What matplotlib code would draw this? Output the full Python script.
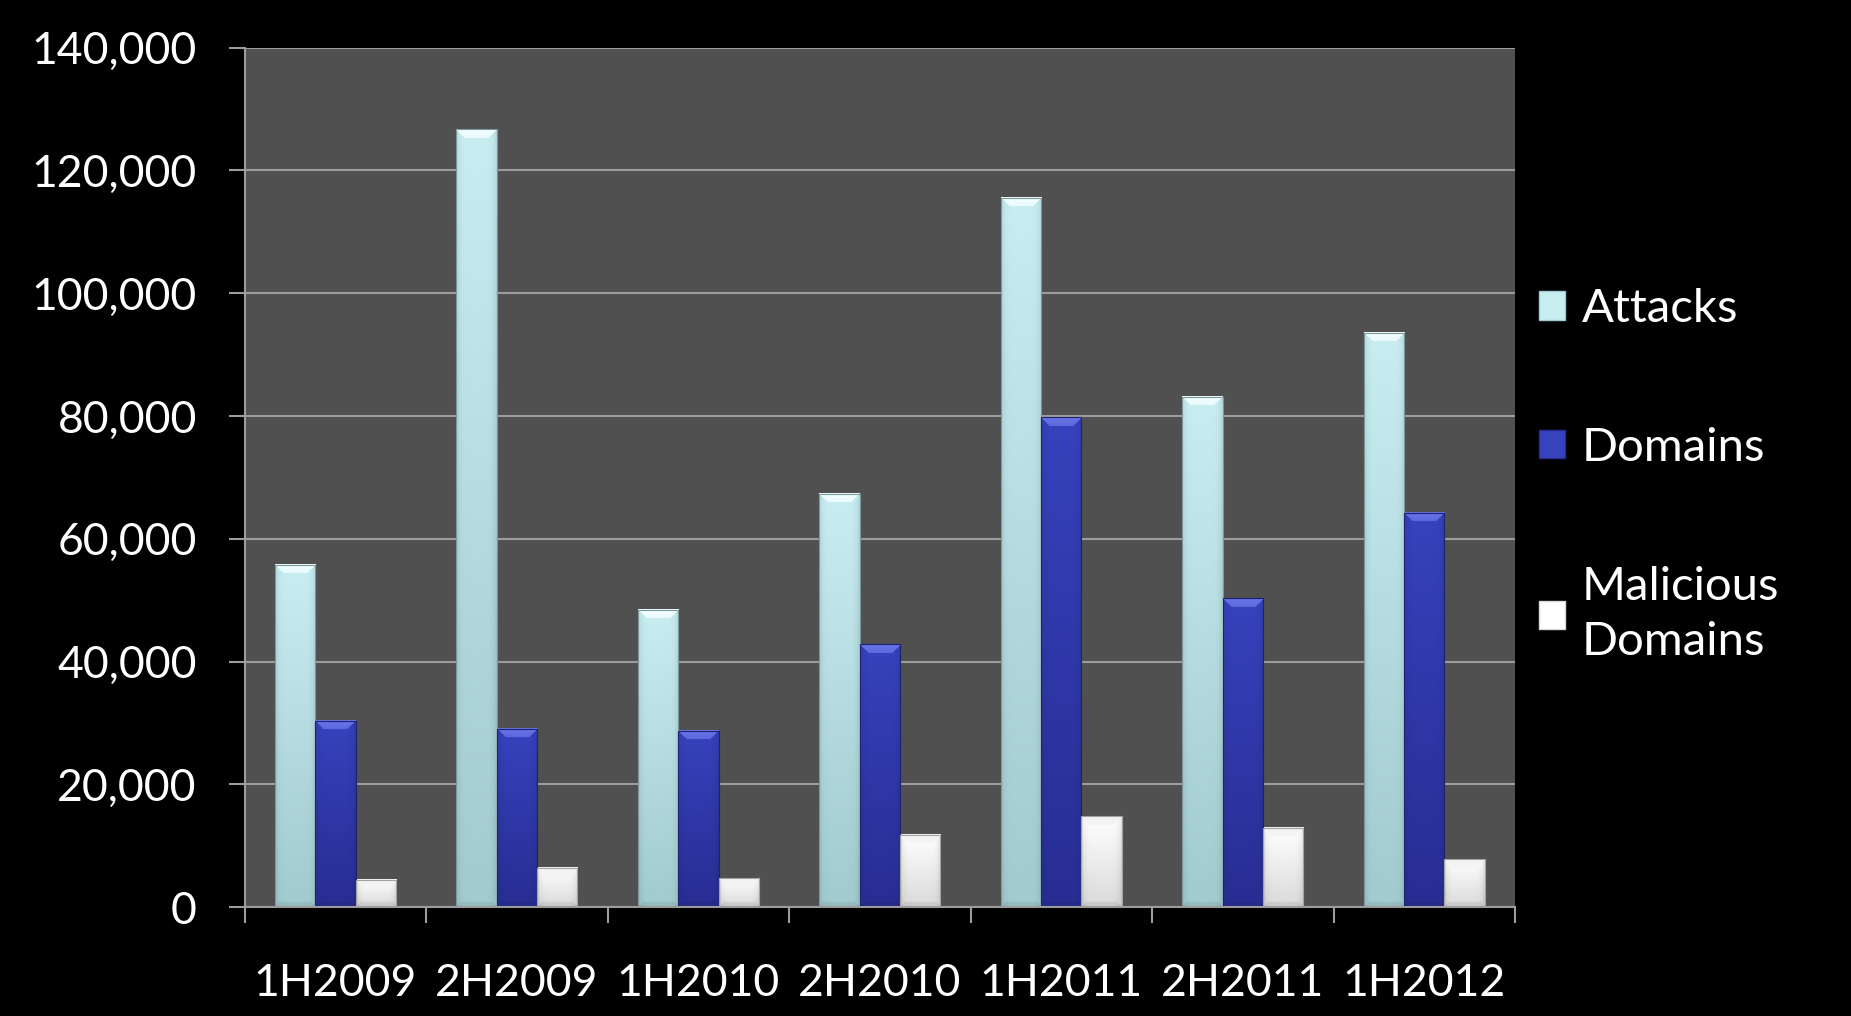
import numpy as np
import matplotlib
matplotlib.use("Agg")
import matplotlib.pyplot as plt
from matplotlib.patches import Patch, Polygon
from matplotlib.ticker import FuncFormatter, MultipleLocator, FixedLocator
from matplotlib.colors import to_rgb

# ---- data ----
categories = ["1H2009", "2H2009", "1H2010", "2H2010", "1H2011", "2H2011", "1H2012"]
attacks = [55800, 126700, 48400, 67300, 115500, 83100, 93500]
domains = [30300, 29000, 28700, 42800, 79800, 50300, 64200]
malicious_domains = [4400, 6400, 4700, 11800, 14800, 12900, 7800]
series_names = ["Attacks", "Domains", "Malicious\nDomains"]

# colours: (top, bottom, cap)
styles = [
    ("#c8eef2", "#a2cbcf", "#f4feff"),
    ("#3742bd", "#282d93", "#6874e6"),
    ("#ffffff", "#dadada", "#f2f2f2"),
]

plt.rcParams['font.family'] = ['Lato', 'DejaVu Sans']
W, H = 1851, 1016
fig = plt.figure(figsize=(W / 100, H / 100), dpi=100, facecolor="black")
ax = fig.add_axes([0.1322, 0.1070, 0.6863, 0.8461])
ax.set_facecolor("#505050")

x = np.arange(len(categories))
bw = 0.222
all_series = [attacks, domains, malicious_domains]
bar_groups = []
for i, (vals, st) in enumerate(zip(all_series, styles)):
    bars = ax.bar(x + (i - 1) * bw, vals, width=bw, color=st[1], zorder=3,
                  linewidth=0)
    bar_groups.append(bars)

ax.set_xlim(-0.5, len(categories) - 0.5)
ax.set_ylim(0, 140000)

# gradient fill + bevel cap for each bar
fig.canvas.draw()
to_px = ax.transData
for bars, st in zip(bar_groups, styles):
    top_c = np.array(to_rgb(st[0]))
    bot_c = np.array(to_rgb(st[1]))
    cap_c = np.array(to_rgb(st[2]))
    for b in bars:
        x0, y0 = b.get_x(), b.get_y()
        x1, y1 = x0 + b.get_width(), y0 + b.get_height()
        p0 = to_px.transform((x0, y0))
        p1 = to_px.transform((x1, y1))
        wpx = max(int(round(p1[0] - p0[0])), 2)
        hpx = max(int(round(p1[1] - p0[1])), 2)
        t = np.linspace(0, 1, hpx)[:, None]
        img = (1 - t)[..., None] * top_c + t[..., None] * bot_c
        img = np.repeat(img, wpx, axis=1)
        u = np.linspace(0, 1, wpx)[None, :]
        side = 1 - 0.10 * (np.abs(u - 0.5) * 2) ** 6
        img = img * side[..., None]
        cap = min(9, hpx // 2)
        for r in range(cap):
            lo, hi = r, wpx - r
            if hi > lo:
                img[r, lo:hi] = cap_c * (1 - 0.25 * r / cap) + top_c * (0.25 * r / cap)
        bb = min(5, hpx // 3)
        for r in range(bb):
            img[hpx - 1 - r, r:wpx - r] *= 0.93
        img = np.clip(img, 0, 1)
        ax.imshow(img, extent=[x0, x1, y0, y1], aspect="auto", zorder=3.5,
                  interpolation="bilinear")
        ax.add_patch(Polygon([[x0, y0], [x0, y1], [x1, y1], [x1, y0]], closed=True,
                             fill=False, edgecolor=tuple(bot_c * 0.75), linewidth=0.8,
                             zorder=3.6))

ax.set_xlim(-0.5, len(categories) - 0.5)
ax.set_ylim(0, 140000)

grid_col = "#9c9c9c"
ax.yaxis.set_major_locator(MultipleLocator(20000))
ax.yaxis.set_major_formatter(FuncFormatter(lambda v, p: f"{int(v):,}"))
ax.grid(axis="y", color=grid_col, linewidth=1.5, zorder=1)
ax.set_axisbelow(True)
for s in ["top", "right"]:
    ax.spines[s].set_visible(False)
for s in ["left", "bottom"]:
    ax.spines[s].set_color(grid_col)
    ax.spines[s].set_linewidth(1.5)
    ax.spines[s].set_zorder(4)

ax.set_xticks(x)
ax.set_xticklabels(categories)
ax.xaxis.set_minor_locator(FixedLocator(np.arange(-0.5, len(categories), 1.0)))
ax.tick_params(axis="x", which="major", length=0, pad=40, labelsize=32,
               labelcolor="white")
ax.tick_params(axis="x", which="minor", length=11.5, width=1.5, color=grid_col,
               direction="out")
ax.tick_params(axis="y", which="major", length=11.5, width=1.5, color=grid_col,
               direction="out", pad=23, labelsize=32, labelcolor="white")

handles = [Patch(facecolor=st[0], edgecolor=st[1], linewidth=1) for st in styles]
leg = fig.legend(handles, series_names, loc="upper left",
                 bbox_to_anchor=(0.8215, 0.735), frameon=False, fontsize=34,
                 labelcolor="white", handlelength=0.55, handleheight=0.55,
                 handletextpad=0.35, labelspacing=2.05, borderaxespad=0)
for txt in leg.get_texts():
    txt.set_linespacing(1.4)

fig.savefig("out.png", dpi=100, facecolor="black")
